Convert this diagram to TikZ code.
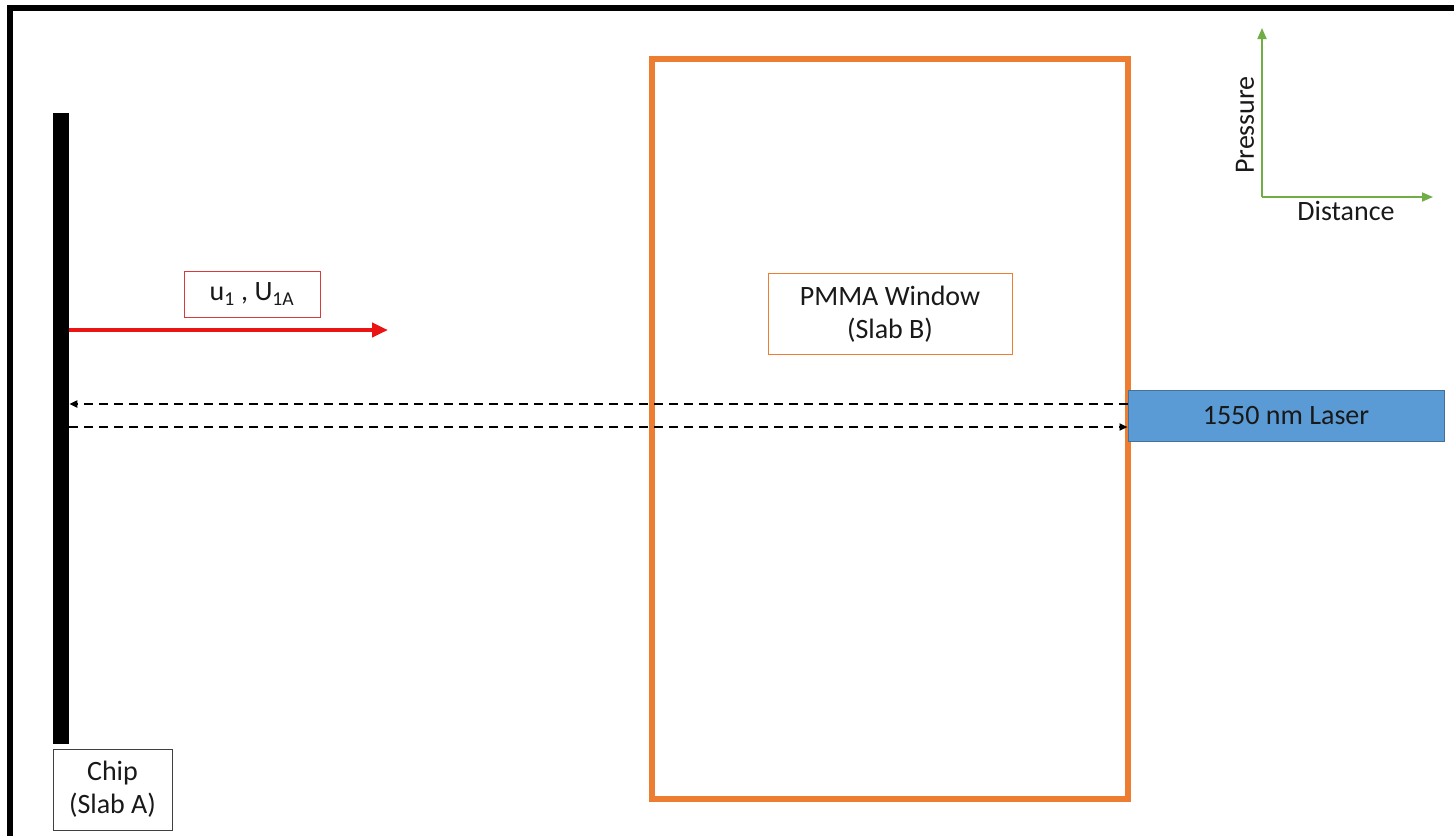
\documentclass[tikz,border=0pt]{standalone}
\usepackage{fontspec}
\setmainfont{Carlito}
\usetikzlibrary{arrows.meta}
\definecolor{orng}{RGB}{237,125,49}
\definecolor{lblue}{RGB}{91,155,213}
\definecolor{dblue}{RGB}{65,113,156}
\definecolor{grn}{RGB}{112,173,71}
\definecolor{redc}{RGB}{235,20,20}
\definecolor{redbox}{RGB}{215,60,60}
\definecolor{txt}{RGB}{25,25,25}
\tikzset{
  lbl/.style={font=\fontsize{28}{33}\selectfont, text=txt, align=center, inner sep=0pt},
  boxed/.style={lbl, draw, line width=1pt, minimum width=#1},
  dashline/.style={line width=2.4pt, dash pattern=on 9pt off 6pt, -{Triangle[length=8pt,width=7pt]}},
  axis/.style={grn, line width=1.8pt, -{Triangle[length=11pt,width=9pt]}}
}
\begin{document}
\begin{tikzpicture}[x=1pt,y=-1pt]
\useasboundingbox (0,0) rectangle (1454,836);
\fill[white] (0,0) rectangle (1454,836);
% frame
\draw[line width=6pt] (1454,8) -- (10,8) -- (10,836);
% chip bar
\node[fill=black, inner sep=0pt, minimum width=16pt, minimum height=631pt, anchor=north west] (chipbar) at (53,113) {};
\node[boxed=119pt, draw=black!75, minimum height=81pt] (chip) at (112.5,789.5) {Chip\\(Slab A)};
% PMMA slab
\node[draw=orng, line width=6pt, minimum width=476pt, minimum height=740pt, inner sep=0pt] (slab) at (890,429) {};
\node[boxed=244pt, draw=orng, minimum height=81pt] (pmma) at (890,314) {PMMA Window\\(Slab B)};
% laser
\node[lbl, fill=lblue, draw=dblue, line width=1pt, minimum width=316pt, minimum height=51pt] (laser) at (1286,415.5) {1550 nm Laser};
% red arrow
\coordinate (uend) at (388,330);
\draw[redc, line width=4pt, -{Triangle[length=16pt,width=14pt]}] (chipbar.east |- uend) -- (uend);
\node[boxed=136pt, draw=redbox, minimum height=46pt] (ubox) at (252,294) {u\textsubscript{1} , U\textsubscript{1A}};
% dashed beams
\draw[dashline] (laser.west |- 0,404) -- (chipbar.east |- 0,404);
\draw[dashline] (chipbar.east |- 0,427) -- (laser.west |- 0,427);
% axes
\coordinate (origin) at (1262,197);
\coordinate (ytop) at (1262,28);
\coordinate (xend) at (1433,197);
\draw[axis] (origin) -- (ytop);
\draw[axis] (origin) -- (xend);
\node[lbl, rotate=90] (pres) at (1245,125) {Pressure};
\node[lbl] (dist) at (1346,211) {Distance};
\end{tikzpicture}
\end{document}
